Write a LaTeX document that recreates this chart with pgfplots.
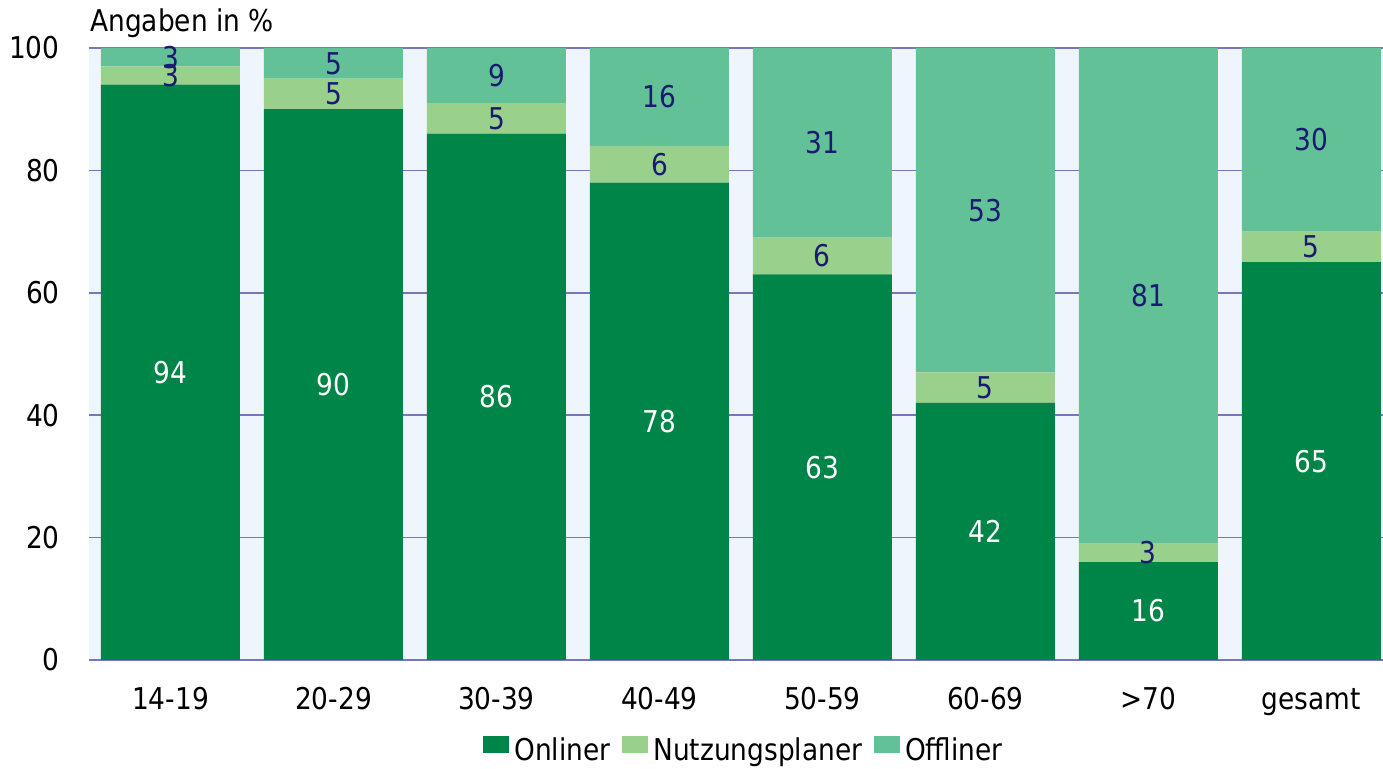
\documentclass[border=0pt]{standalone}
\usepackage{pgfplots}
\pgfplotsset{compat=1.18}
\usepackage{pgfplotstable}
\usepackage{fontspec}
\setmainfont{DejaVu Sans}[FakeStretch=0.88]
\definecolor{onc}{RGB}{0,133,72}
\definecolor{planc}{RGB}{153,208,139}
\definecolor{offc}{RGB}{98,193,151}
\definecolor{bgc}{RGB}{238,245,253}
\definecolor{gridc}{RGB}{118,118,186}
\definecolor{navy}{RGB}{26,26,112}
\pgfplotstableread{
x on plan off
0 94 3 3
1 90 5 5
2 86 5 9
3 78 6 16
4 63 6 31
5 42 5 53
6 16 3 81
7 65 5 30
}\data
\begin{document}
\fontsize{15}{17}\selectfont
\begin{tikzpicture}
\pgfplotsset{base/.style={scale only axis, width=647pt, height=306pt,
  xmin=-0.5, xmax=7.44, ymin=0, ymax=100}}
\begin{axis}[base, name=main,
  ybar stacked, bar width=0.853,
  axis background/.style={fill=bgc},
  axis line style={draw=none},
  major tick length=0pt,
  xtick={0,...,7},
  xticklabels={14-19,20-29,30-39,40-49,50-59,60-69,>70,gesamt},
  ytick={0,20,...,100},
  ymajorgrids, grid style={color=gridc, line width=0.8pt},
  /pgf/number format/assume math mode=true,
  xticklabel style={anchor=base, yshift=-25pt, inner sep=0pt},
  yticklabel style={anchor=east, inner sep=0pt, xshift=-14.5pt},
  legend columns=-1,
  legend style={draw=none, fill=none, inner sep=0pt,
    at={(axis description cs:0.3045,-0.1480)}, anchor=west,
    nodes={inner sep=0pt},
    /tikz/every odd column/.append style={column sep=2.5pt},
    /tikz/every even column/.append style={column sep=6pt}},
  legend image code/.code={\fill[#1] (0pt,-1.0pt) rectangle (13pt,7.5pt);},
]
\addplot[fill=onc, draw=none] table[x=x,y=on]{\data};
\addlegendentry{Onliner}
\addplot[fill=planc, draw=none] table[x=x,y=plan]{\data};
\addlegendentry{Nutzungsplaner}
\addplot[fill=offc, draw=none] table[x=x,y=off]{\data};
\addlegendentry{Offliner}
\end{axis}
\begin{axis}[base, hide axis]
\addplot[draw=none, mark=none, nodes near coords, point meta=explicit symbolic,
  nodes near coords style={anchor=center, text=white, inner sep=0pt}]
  table[x=x, y expr=\thisrow{on}/2, meta=on]{\data};
\addplot[draw=none, mark=none, nodes near coords, point meta=explicit symbolic,
  nodes near coords style={anchor=center, text=navy, inner sep=0pt}]
  table[x=x, y expr=\thisrow{on}+\thisrow{plan}/2, meta=plan]{\data};
\addplot[draw=none, mark=none, nodes near coords, point meta=explicit symbolic,
  nodes near coords style={anchor=center, text=navy, inner sep=0pt}]
  table[x=x, y expr=\thisrow{on}+\thisrow{plan}+\thisrow{off}/2, meta=off]{\data};
\end{axis}
\node[anchor=base west, inner sep=0pt] at ([xshift=0.5pt, yshift=8pt]main.north west) {Angaben in \%};
\pgfresetboundingbox
\path ([xshift=-44.5pt, yshift=-54.5pt]main.south west) rectangle ([yshift=24pt]main.north east);
\end{tikzpicture}
\end{document}
